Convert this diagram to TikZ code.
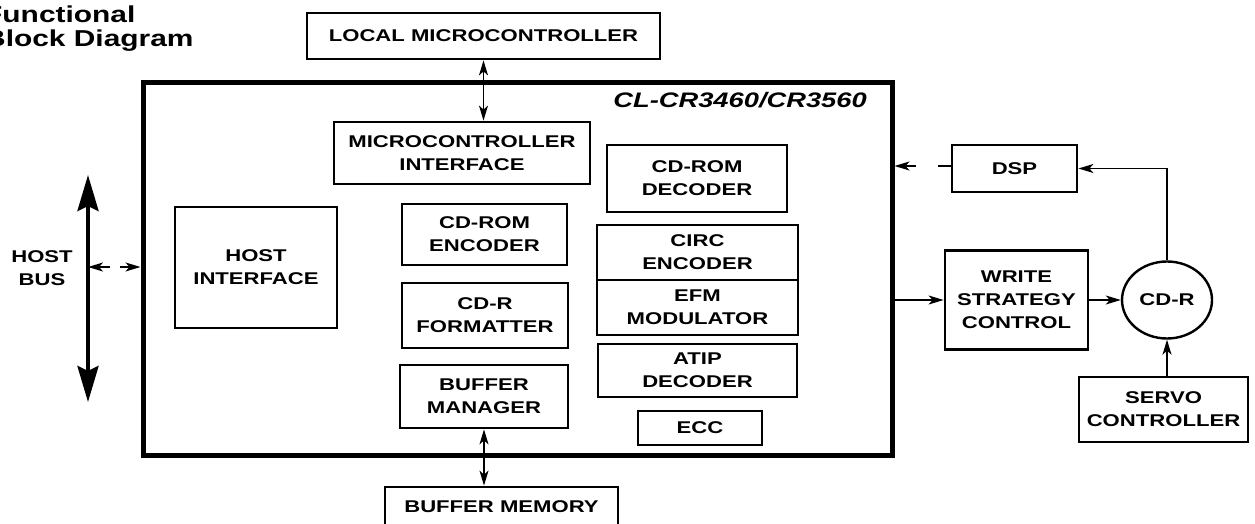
\documentclass[tikz,border=0pt]{standalone}
\usepackage{fontspec}
\setmainfont{Liberation Sans}[FakeStretch=1.3]
\usetikzlibrary{arrows.meta,shapes.geometric}
\begin{document}
\begin{tikzpicture}[x=1pt,y=-1pt,
  lbl/.style={font=\fontsize{17}{23}\selectfont\bfseries, align=center},
  box/.style={lbl, draw, line width=2.8pt, inner sep=0pt},
  arr/.style={line width=1.4pt, -{Stealth[length=15pt,width=9pt,inset=4pt]}},
  darr/.style={line width=1.4pt, {Stealth[length=15pt,width=9pt,inset=4pt]}-{Stealth[length=15pt,width=9pt,inset=4pt]}},
  bigarr/.style={line width=4pt, {Stealth[length=36pt,width=21pt,inset=5pt]}-{Stealth[length=36pt,width=21pt,inset=5pt]}},
  titlef/.style={font=\fontsize{23}{27}\selectfont\bfseries, inner sep=0pt}]
\useasboundingbox[fill=white] (0,0) rectangle (1255,524);
\clip (0,0) rectangle (1255,524);

% title (left part cut off by the page edge)
\node[titlef, anchor=base west] (t1) at (-16,23) {Functional};
\node[titlef, anchor=base west] (t2) at (-16,47) {Block Diagram};

% chip outline
\node[draw, line width=5pt, minimum width=749pt, minimum height=372pt, inner sep=0pt] (chip) at (517.5,269) {};
\node[font=\fontsize{21}{25}\selectfont\bfseries\itshape, anchor=base east, inner sep=0pt] (chipname) at (867,108) {CL-CR3460/CR3560};

% external boxes
\node[box, minimum width=353pt, minimum height=46pt] (lmc) at (483.5,36) {LOCAL MICROCONTROLLER};
\node[box, minimum width=233pt, minimum height=40pt] (bufmem) at (501.5,507) {BUFFER MEMORY};
\node[box, minimum width=125pt, minimum height=47pt] (dsp) at (1014.5,168.5) {DSP};
\node[box, minimum width=143pt, minimum height=99pt] (wsc) at (1016.5,300) {WRITE\\STRATEGY\\CONTROL};
\node[lbl, draw, ellipse, line width=2.4pt, minimum width=90pt, minimum height=77pt, inner sep=0pt] (cdr) at (1167,300) {CD-R};
\node[box, minimum width=169pt, minimum height=65pt] (servo) at (1163.5,409.5) {SERVO\\CONTROLLER};

% internal boxes
\node[box, minimum width=256pt, minimum height=62pt] (mci) at (462,153) {MICROCONTROLLER\\INTERFACE};
\node[box, minimum width=162pt, minimum height=121pt] (hif) at (256,267.5) {HOST\\INTERFACE};
\node[box, minimum width=165pt, minimum height=61pt] (cdenc) at (484.5,234.5) {CD-ROM\\ENCODER};
\node[box, minimum width=166pt, minimum height=65pt] (cdrfmt) at (485,315.5) {CD-R\\FORMATTER};
\node[box, minimum width=168pt, minimum height=63pt] (bufmgr) at (484,396.5) {BUFFER\\MANAGER};
\node[box, minimum width=180pt, minimum height=67pt] (cddec) at (697,178.5) {CD-ROM\\DECODER};
\node[box, minimum width=201pt, minimum height=55pt] (circ) at (697.5,252.5) {CIRC\\ENCODER};
\node[box, minimum width=201pt, minimum height=55pt] (efm) at (697.5,307.5) {EFM\\MODULATOR};
\node[box, minimum width=199pt, minimum height=53pt] (atip) at (697.5,370.5) {ATIP\\DECODER};
\node[box, minimum width=124pt, minimum height=34pt] (ecc) at (700,428) {ECC};

% host bus
\node[lbl, inner sep=0pt] (hostbus) at (42,268) {HOST\\BUS};
\coordinate (bustop) at (88,175);
\coordinate (busbot) at (88,402);
\draw[bigarr] (bustop) -- (busbot);
\coordinate (hbl) at (110,267);
\coordinate (hbr) at (120,267);
\draw[arr] (hbl) -- (hbl -| bustop);
\draw[arr] (hbr) -- (hbr -| chip.west);

% connectors
\draw[darr] (lmc.south) -- (lmc.south |- mci.north);
\draw[darr] (bufmgr.south) -- (bufmgr.south |- bufmem.north);
\coordinate (dspa) at (916,166);
\coordinate (dspb) at (938,166);
\draw[line width=1.4pt] (dspb) -- (dspb -| dsp.west);
\draw[arr] (dspa) -- (dspa -| chip.east);
\draw[arr] (wsc.west -| chip.east) -- (wsc.west);
\draw[arr] (wsc.east) -- (cdr.west);
\draw[arr] (cdr.north) |- (dsp.east);
\draw[arr] (servo.north -| cdr.south) -- (cdr.south);
\end{tikzpicture}
\end{document}
